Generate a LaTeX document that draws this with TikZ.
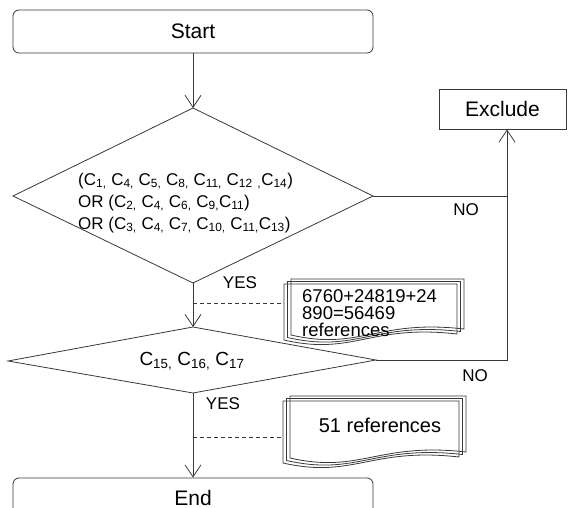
\documentclass[tikz,border=0pt]{standalone}
\usepackage{fontspec}
\setmainfont{Liberation Sans}
\usetikzlibrary{arrows.meta}
\newcommand\docpage[4]{\draw[ln] (#1,#2) -- ({#1+#3},#2) -- ({#1+#3},{#2+#4-6}) .. controls ({#1+0.5*#3},{#2+#4-16}) and ({#1+0.4*#3},{#2+#4+16}) .. (#1,{#2+#4}) -- cycle;}
\newcommand\docstack[4]{\docpage{#1}{#2}{#3}{#4}\docpage{#1+3.5}{#2-2.5}{#3}{#4}\docpage{#1+7}{#2-5}{#3}{#4}}
\begin{document}
\begin{tikzpicture}[x=1pt,y=-1pt,
  ln/.style={draw=black!78, line width=0.8pt},
  arr/.style={ln, -{Straight Barb[length=12pt,width=16pt]}},
  dashline/.style={draw=black!78, line width=0.8pt, dash pattern=on 4pt off 3pt},
  termbox/.style={ln, rounded corners=6pt, minimum width=360pt, minimum height=43pt, inner sep=0pt, font=\fontsize{21}{24}\selectfont},
  lbl/.style={font=\fontsize{17}{20}\selectfont, inner sep=0pt}
]
\useasboundingbox (0,0) rectangle (568,508);
\clip (0,0) rectangle (568,508);

% terminals
\node[termbox] (start) at (193,31.5) {Start};
\node[termbox] (end) at (193,499.5) {};
\node[font=\fontsize{21}{24}\selectfont, inner sep=0pt] (endtxt) at (193,497.5) {End};
\node[ln, minimum width=127pt, minimum height=40pt, inner sep=0pt, font=\fontsize{21}{24}\selectfont] (excl) at (502.5,109) {Exclude};

% decision 1
\coordinate (d1t) at (193,108);
\coordinate (d1r) at (373,196);
\coordinate (d1b) at (193,283);
\coordinate (d1l) at (13,196);
\draw[ln] (d1t) -- (d1r) -- (d1b) -- (d1l) -- cycle;
\node[font=\fontsize{17}{22}\selectfont, align=left, anchor=west, inner sep=0pt] (d1txt) at (78,203)
 {(C\textsubscript{1,} C\textsubscript{4,} C\textsubscript{5,} C\textsubscript{8,} C\textsubscript{11,} C\textsubscript{12} \textsubscript{,}C\textsubscript{14})\\
  OR (C\textsubscript{2,} C\textsubscript{4,} C\textsubscript{6,} C\textsubscript{9,}C\textsubscript{11})\\
  OR (C\textsubscript{3,} C\textsubscript{4,} C\textsubscript{7,} C\textsubscript{10,} C\textsubscript{11,}C\textsubscript{13})};

% decision 2
\coordinate (d2t) at (193,327);
\coordinate (d2r) at (376,360);
\coordinate (d2b) at (193,393);
\coordinate (d2l) at (8,361);
\draw[ln] (d2t) -- (d2r) -- (d2b) -- (d2l) -- cycle;
\node[font=\fontsize{19}{22}\selectfont, inner sep=0pt] (d2txt) at (192,361)
 {C\textsubscript{15,} C\textsubscript{16,} C\textsubscript{17}};

% junctions
\coordinate (j1) at (507,196);
\coordinate (j2) at (507,360);

% connectors
\draw[arr] (start.south) -- (d1t);
\draw[arr] (d1b) -- (d2t);
\draw[arr] (d2b) -- (end.north);
\draw[ln] (d1r) -- (j1);
\draw[arr] (j1) -- (excl.south -| j1);
\draw[ln] (d2r) -- (j2) -- (j1);

% labels
\node[lbl] (yes1) at (240,283) {YES};
\node[lbl] (yes2) at (223,404) {YES};
\node[lbl] (no1) at (466,210) {NO};
\node[lbl] (no2) at (475,376) {NO};

% documents
\docstack{284}{284}{173}{56}
\docstack{283}{401}{176}{62}
\node[font=\fontsize{18.5}{17}\selectfont, align=left, anchor=west, inner sep=0pt] (doc1) at (302,313)
 {6760+24819+24\\890=56469\\references};
\node[font=\fontsize{20}{22}\selectfont, inner sep=0pt] (doc2) at (380,425) {51 references};

\coordinate (m1) at (193,303);
\coordinate (doc1w) at (284,303);
\coordinate (m2) at (193,437);
\coordinate (doc2w) at (283,437);
\draw[dashline] (m1) -- (doc1w);
\draw[dashline] (m2) -- (doc2w);
\end{tikzpicture}
\end{document}
